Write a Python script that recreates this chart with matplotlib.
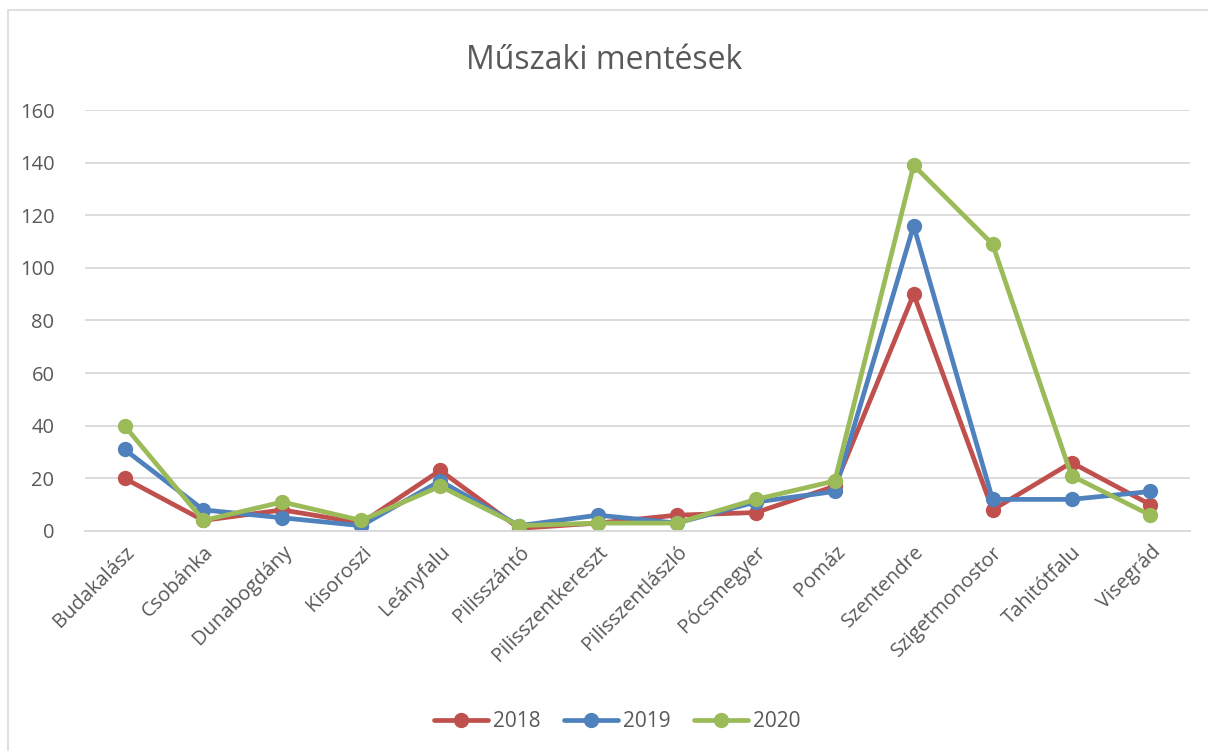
import matplotlib
matplotlib.use("Agg")
import matplotlib.pyplot as plt
from matplotlib.patches import Rectangle

categories = ["Budakalász", "Csobánka", "Dunabogdány", "Kisoroszi", "Leányfalu",
              "Pilisszántó", "Pilisszentkereszt", "Pilisszentlászló", "Pócsmegyer",
              "Pomáz", "Szentendre", "Szigetmonostor", "Tahitótfalu", "Visegrád"]
s2018 = [20, 4, 8, 3, 23, 1, 3, 6, 7, 17, 90, 8, 26, 10]
s2019 = [31, 8, 5, 2, 19, 2, 6, 3, 11, 15, 116, 12, 12, 15]
s2020 = [40, 4, 11, 4, 17, 2, 3, 3, 12, 19, 139, 109, 21, 6]
series_names = ["2018", "2019", "2020"]
yticks = [0, 20, 40, 60, 80, 100, 120, 140, 160]

colors = ["#C0504D", "#4F81BD", "#9BBB59"]
txt = "#595959"
plt.rcParams['font.family'] = ['Open Sans', 'DejaVu Sans']

fig = plt.figure(figsize=(12.08, 7.51), dpi=100)
ax = fig.add_axes([0.0704, 0.293, 0.9146, 0.5605])
x = list(range(len(categories)))
for vals, c, n in zip([s2018, s2019, s2020], colors, series_names):
    ax.plot(x, vals, color=c, lw=3.4, marker='o', ms=10, label=n,
            solid_capstyle='round', solid_joinstyle='round')

ax.set_xlim(-0.5, len(categories) - 0.5)
ax.set_ylim(0, 160)
ax.set_yticks(yticks)
ax.set_yticklabels([str(v) for v in yticks], fontsize=14.5, color=txt)
ax.yaxis.grid(True, color="#D9D9D9", lw=1.3)
ax.set_axisbelow(True)
ax.tick_params(axis='y', length=0, pad=22)
ax.set_xticks(x)
ax.set_xticklabels(categories, rotation=45, ha='right', rotation_mode='anchor',
                   fontsize=14.5, color=txt)
ax.tick_params(axis='x', length=0, pad=8)
for s in ['top', 'right', 'left']:
    ax.spines[s].set_visible(False)
ax.spines['bottom'].set_color("#D9D9D9")
ax.spines['bottom'].set_linewidth(1.3)

fig.text(0.5, 0.92, "Műszaki mentések", ha='center', va='center', fontsize=23, color=txt)
leg = fig.legend(loc='center', bbox_to_anchor=(0.511, 0.039), ncol=3, frameon=False,
                 fontsize=15, handlelength=2.6, columnspacing=1.1, handletextpad=0.25)
for t in leg.get_texts():
    t.set_color(txt)

fig.patches.append(Rectangle((8 / 1208, -0.1), 1.2, 1.0867, transform=fig.transFigure,
                             fill=False, edgecolor="#D9D9D9", lw=1.2))
fig.savefig("out.png", dpi=100, facecolor='white')
